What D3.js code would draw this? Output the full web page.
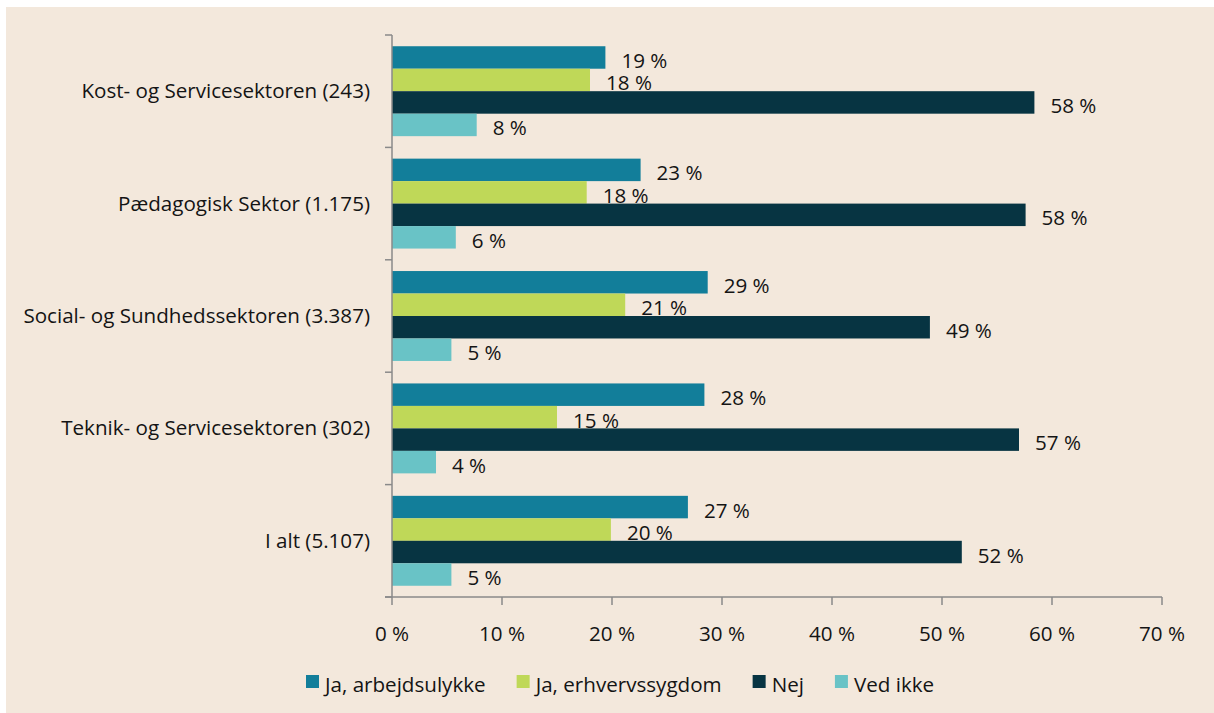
<!DOCTYPE html>
<html>
<head>
<meta charset="utf-8">
<script src="https://cdn.jsdelivr.net/npm/d3@7"></script>
<style>
  body { margin: 0; background: #fff; }
  text { font-family: "Open Sans", "Noto Sans", sans-serif; fill: #141414; }
</style>
</head>
<body>
<svg id="chart" width="1214" height="713"></svg>
<script>
// categories top to bottom
var categories = ["Kost- og Servicesektoren (243)", "Pædagogisk Sektor (1.175)",
  "Social- og Sundhedssektoren (3.387)", "Teknik- og Servicesektoren (302)", "I alt (5.107)"];
var seriesNames = ["Ja, arbejdsulykke", "Ja, erhvervssygdom", "Nej", "Ved ikke"];
var seriesColors = ["#127e9a", "#bfd858", "#073442", "#69c3c6"];
// values in percent, one array per series, same order as categories
var arbejdsulykke = [19.4, 22.6, 28.7, 28.4, 26.9];
var erhvervssygdom = [18.0, 17.7, 21.2, 15.0, 19.9];
var nej = [58.4, 57.6, 48.9, 57.0, 51.8];
var vedIkke = [7.7, 5.8, 5.4, 4.0, 5.4];
var xTicks = [0, 10, 20, 30, 40, 50, 60, 70];

var series = [arbejdsulykke, erhvervssygdom, nej, vedIkke];
var fs = "20.6px";

var svg = d3.select("#chart");
svg.append("rect").attr("x", 6).attr("y", 7).attr("width", 1208).attr("height", 706).attr("fill", "#f3e8dc");

var x = d3.scaleLinear().domain([0, 70]).range([392, 1162]);
var y = d3.scaleBand().domain(categories).range([35, 597]).paddingInner(0.2).paddingOuter(0.1);
var ySub = d3.scaleBand().domain(d3.range(series.length)).range([0, y.bandwidth()]);

var axisColor = "#8a8a8a";

// bars
var groups = svg.selectAll("g.cat").data(categories).enter().append("g")
  .attr("class", "cat")
  .attr("transform", function(d) { return "translate(0," + y(d) + ")"; });

groups.each(function(cat, ci) {
  var g = d3.select(this);
  series.forEach(function(s, si) {
    g.append("rect")
      .attr("x", x(0))
      .attr("y", ySub(si))
      .attr("width", x(s[ci]) - x(0))
      .attr("height", ySub.bandwidth())
      .attr("fill", seriesColors[si]);
    g.append("text")
      .attr("x", x(s[ci]) + 16)
      .attr("y", ySub(si) + ySub.bandwidth() / 2 + 10.5)
      .attr("font-size", fs)
      .text(Math.round(s[ci]) + " %");
  });
});

// y axis line and boundary ticks
var step = y.step();
var top0 = y.range()[0];
svg.append("line").attr("x1", x(0)).attr("x2", x(0)).attr("y1", top0).attr("y2", 597)
  .attr("stroke", axisColor).attr("stroke-width", 1.5);
d3.range(categories.length + 1).forEach(function(i) {
  var yy = top0 + i * step;
  svg.append("line").attr("x1", x(0) - 7).attr("x2", x(0)).attr("y1", yy).attr("y2", yy)
    .attr("stroke", axisColor).attr("stroke-width", 1.5);
});

// category labels
svg.selectAll("text.catlabel").data(categories).enter().append("text")
  .attr("class", "catlabel")
  .attr("x", 370)
  .attr("y", function(d) { return y(d) - y.step() * y.paddingInner() / 2 + y.step() / 2 + 7; })
  .attr("text-anchor", "end")
  .attr("font-size", fs)
  .text(function(d) { return d; });

// x axis
svg.append("line").attr("x1", x(0) - 7).attr("x2", x(70)).attr("y1", 597).attr("y2", 597)
  .attr("stroke", axisColor).attr("stroke-width", 1.5);
xTicks.forEach(function(t) {
  svg.append("line").attr("x1", x(t)).attr("x2", x(t)).attr("y1", 597).attr("y2", 605)
    .attr("stroke", axisColor).attr("stroke-width", 1.5);
  svg.append("text").attr("x", x(t)).attr("y", 641).attr("text-anchor", "middle")
    .attr("font-size", fs).text(t + " %");
});

// legend
var lx = 306;
seriesNames.forEach(function(name, i) {
  svg.append("rect").attr("x", lx).attr("y", 675).attr("width", 13).attr("height", 13)
    .attr("fill", seriesColors[i]);
  var t = svg.append("text").attr("x", lx + 19).attr("y", 692).attr("font-size", fs).text(name);
  lx += 19 + t.node().getComputedTextLength() + 31;
});
</script>
</body>
</html>
